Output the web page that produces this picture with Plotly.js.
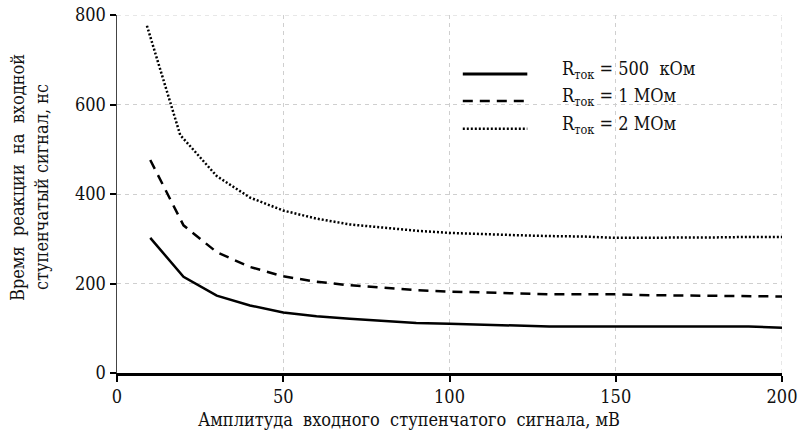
<!DOCTYPE html>
<html>
<head>
<meta charset="utf-8">
<script src="https://cdn.plot.ly/plotly-3.0.1.min.js"></script>
<style>html,body{margin:0;padding:0;background:#fff;}#chart{width:798px;height:444px;}</style>
</head>
<body>
<div id="chart"></div>
<script>
// Data
const xA = [10,20,30,40,50,60,70,80,90,100,110,120,130,140,150,160,170,180,190,200];
const xDot = [9,19,30,40,50,60,70,80,90,100,110,120,130,140,150,160,170,180,190,200];
const r500k = [302,215,173,151,135,127,121,116,112,110,108,106,104,104,104,104,104,104,104,101];
const r1M = [476,330,270,237,216,204,196,190,185,182,180,178,176,176,176,174,173,172,172,171];
const r2M = [776,532,440,392,363,345,332,325,318,313,310,308,306,305,302,302,302,303,304,304];
const seriesNames = ["R<sub>ток</sub> = 500  кОм", "R<sub>ток</sub> = 1 МОм", "R<sub>ток</sub> = 2 МОм"];
const xTitle = "Амплитуда  входного  ступенчатого  сигнала, мВ";
const yTitleLines = ["Время  реакции  на  входной", "ступенчатый сигнал, нс"];
const xTicks = [0,50,100,150,200];
const yTicks = [0,200,400,600,800];

const fam = "DejaVu Serif Condensed, DejaVu Serif";
const tickFont = {family: fam, size: 18, color: "#111"};
const titleFont = {family: fam, size: 18, color: "#111"};
const legFont = {family: fam, size: 18, color: "#111"};
const dashes = ["solid", "10px,7px", "2px,2px"];
const widths = [2.5, 2.5, 2.5];

const traces = [
  {x: xA, y: r500k, name: seriesNames[0]},
  {x: xA, y: r1M, name: seriesNames[1]},
  {x: xDot, y: r2M, name: seriesNames[2]}
].map((t, i) => Object.assign(t, {
  type: "scatter", mode: "lines", showlegend: false,
  line: {color: "#000", width: widths[i], dash: dashes[i]}
}));

const gridStyle = {color: "#cfcfcf", width: 1, dash: "4px,4px"};
const legX0 = 0.520, legX1 = 0.617, legTextX = 0.666;
const legY = [0.835, 0.760, 0.682];
const shapes = [
  {type: "line", xref: "paper", yref: "y", x0: 0, x1: 1, y0: yTicks[yTicks.length-1], y1: yTicks[yTicks.length-1], line: gridStyle, layer: "below"},
  {type: "line", xref: "x", yref: "paper", x0: xTicks[xTicks.length-1], x1: xTicks[xTicks.length-1], y0: 0, y1: 1, line: gridStyle, layer: "below"}
];
const annotations = [];
legY.forEach((yy, i) => {
  shapes.push({type: "line", xref: "paper", yref: "paper", x0: legX0, x1: legX1, y0: yy, y1: yy,
    line: {color: "#000", width: i === 0 ? 3 : 2.5, dash: dashes[i]}});
  annotations.push({xref: "paper", yref: "paper", x: legTextX, y: yy, yshift: 4, xanchor: "left", yanchor: "middle",
    text: seriesNames[i], showarrow: false, font: legFont});
});
// axis titles as annotations (positioned like the reference)
annotations.push({xref: "paper", yref: "paper", x: 0.439, y: -0.131, xanchor: "center", yanchor: "middle",
  text: xTitle, showarrow: false, font: titleFont});
annotations.push({xref: "paper", yref: "paper", x: -0.1489, y: 0.5475, xanchor: "center", yanchor: "middle",
  textangle: -90, text: yTitleLines[0], showarrow: false, font: titleFont});
annotations.push({xref: "paper", yref: "paper", x: -0.1128, y: 0.5196, xanchor: "center", yanchor: "middle",
  textangle: -90, text: yTitleLines[1], showarrow: false, font: titleFont});

const layout = {
  width: 798, height: 444,
  margin: {l: 117, r: 16, t: 15, b: 71},
  paper_bgcolor: "#fff", plot_bgcolor: "#fff",
  font: tickFont,
  xaxis: {
    range: [0, 200], tickvals: xTicks, ticktext: xTicks.map(String),
    showgrid: true, gridcolor: "#cfcfcf", griddash: "4px,4px", gridwidth: 1,
    showline: true, linecolor: "#000", linewidth: 2.5,
    ticks: "outside", ticklen: 6, tickwidth: 2, tickcolor: "#000",
    zeroline: false, tickfont: tickFont, ticklabeloverflow: "allow"
  },
  yaxis: {
    range: [0, 800], tickvals: yTicks, ticktext: yTicks.map(String),
    showgrid: true, gridcolor: "#cfcfcf", griddash: "4px,4px", gridwidth: 1,
    showline: true, linecolor: "#444", linewidth: 1.5,
    ticks: "outside", ticklen: 6, tickwidth: 2, tickcolor: "#000",
    zeroline: false, tickfont: tickFont, ticklabeloverflow: "allow"
  },
  shapes: shapes,
  annotations: annotations,
  showlegend: false
};

Plotly.newPlot("chart", traces, layout, {displayModeBar: false, staticPlot: true});
</script>
</body>
</html>
